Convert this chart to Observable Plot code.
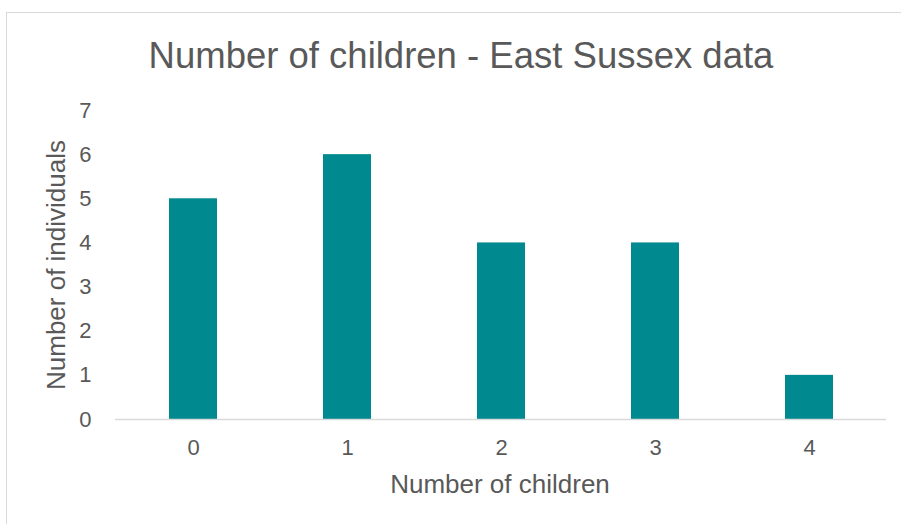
<!DOCTYPE html>
<html>
<head>
<meta charset="utf-8">
<script src="https://cdn.jsdelivr.net/npm/d3@7"></script>
<script src="https://cdn.jsdelivr.net/npm/@observablehq/plot@0.6"></script>
<style>
  html, body { margin: 0; padding: 0; background: #fff; }
  #wrap { position: relative; width: 901px; height: 524px; overflow: hidden; font-family: "Liberation Sans", Arial, sans-serif; color: #595959; }
  #frame { position: absolute; left: 6px; top: 12px; width: 910px; height: 540px; border: 1.5px solid #d9d9d9; box-sizing: border-box; }
  #title { position: absolute; left: 0; width: 922px; top: 36px; text-align: center; font-size: 36.5px; line-height: 40px; white-space: nowrap; }
  #xlabel { position: absolute; left: 0; width: 1000px; top: 469px; text-align: center; font-size: 26px; line-height: 30px; white-space: nowrap; }
  #ylabel { position: absolute; left: 56px; top: 265px; transform: translate(-50%, -50%) rotate(-90deg); font-size: 26px; line-height: 30px; white-space: nowrap; }
  #chart { position: absolute; left: 0; top: 0; }
</style>
</head>
<body>
<div id="wrap">
  <div id="frame"></div>
  <div id="chart"></div>
  <div id="title"></div>
  <div id="xlabel"></div>
  <div id="ylabel"></div>
</div>
<script>
const titleText = "Number of children - East Sussex data";
const categories = ["0", "1", "2", "3", "4"];
const values = [5, 6, 4, 4, 1];
const yTicks = [0, 1, 2, 3, 4, 5, 6, 7];
const xLabel = "Number of children";
const yLabel = "Number of individuals";

document.getElementById("title").textContent = titleText;
document.getElementById("xlabel").textContent = xLabel;
document.getElementById("ylabel").textContent = yLabel;

const data = categories.map((c, i) => ({category: c, value: values[i]}));

const chart = Plot.plot({
  width: 901,
  height: 524,
  marginLeft: 115,
  marginRight: 15,
  marginTop: 110,
  marginBottom: 105,
  style: {fontFamily: "'Liberation Sans', Arial, sans-serif", color: "#595959", background: "transparent"},
  x: {domain: categories, paddingInner: 0.69, paddingOuter: 0.345},
  y: {domain: [0, 7]},
  marks: [
    Plot.barY(data, {x: "category", y: "value", fill: "#00898E"}),
    Plot.ruleY([0], {stroke: "#d9d9d9", strokeWidth: 1.5}),
    Plot.axisX({tickSize: 0, tickPadding: 20, fontSize: 22, label: null}),
    Plot.axisY({ticks: yTicks, tickFormat: "d", tickSize: 0, tickPadding: 24, fontSize: 22, label: null})
  ]
});
document.getElementById("chart").appendChild(chart);
</script>
</body>
</html>
